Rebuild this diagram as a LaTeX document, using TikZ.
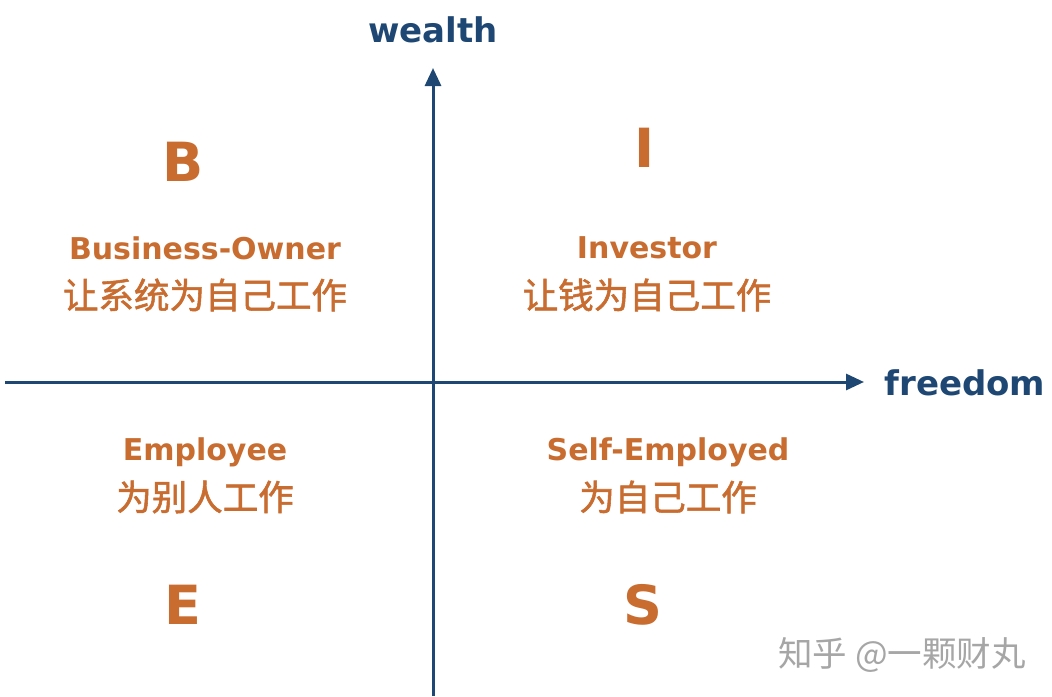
\documentclass[tikz,border=0pt]{standalone}
\usepackage{fontspec}
\setmainfont{DejaVu Sans}
\newfontfamily\cjk{Noto Sans CJK SC}[FakeBold=1.5]
\newfontfamily\cjkr{Noto Sans CJK SC}
\usetikzlibrary{arrows.meta}
\definecolor{org}{RGB}{200,108,48}
\definecolor{axblue}{RGB}{30,72,115}
\begin{document}
\begin{tikzpicture}[x=1pt,y=-1pt,
  en/.style={text=org,font=\bfseries\fontsize{30}{32}\selectfont},
  zh/.style={text=org,font=\cjk\fontsize{35.5}{38}\selectfont},
  big/.style={text=org,font=\bfseries\fontsize{54}{60}\selectfont},
  ax/.style={text=axblue,font=\bfseries\fontsize{34}{38}\selectfont},
  axis/.style={draw=axblue,line width=3pt,-{Triangle[length=18pt,width=16pt]}}]
\useasboundingbox[fill=white] (0,0) rectangle (1052,696);
\coordinate (xs) at (5,382); \coordinate (xe) at (864,382);
\coordinate (ys) at (433,696); \coordinate (ye) at (433,68);
\draw[axis] (xs) -- (xe);
\draw[axis] (ys) -- (ye);
\node[ax] (w) at (433,30) {wealth};
\node[ax] (f) at (965,383) {freedom};
\node[big] (B) at (183,162) {B};
\node[big] (I) at (645,148) {I};
\node[big] (E) at (183,605) {E};
\node[big] (S) at (643,605) {S};
\node[en] (bo) at (205,248) {Business-Owner};
\node[zh] (bo2) at (205,295) {让系统为自己工作};
\node[en] (in) at (647,248) {Investor};
\node[zh] (in2) at (647,295) {让钱为自己工作};
\node[en] (em) at (205,452) {Employee};
\node[zh] (em2) at (205,497) {为别人工作};
\node[en] (se) at (668,452) {Self-Employed};
\node[zh] (se2) at (668,497) {为自己工作};
\node[text=gray!70,font=\cjkr\fontsize{34.5}{36}\selectfont] (wm) at (902,655) {知乎 @一颗财丸};
\end{tikzpicture}
\end{document}
